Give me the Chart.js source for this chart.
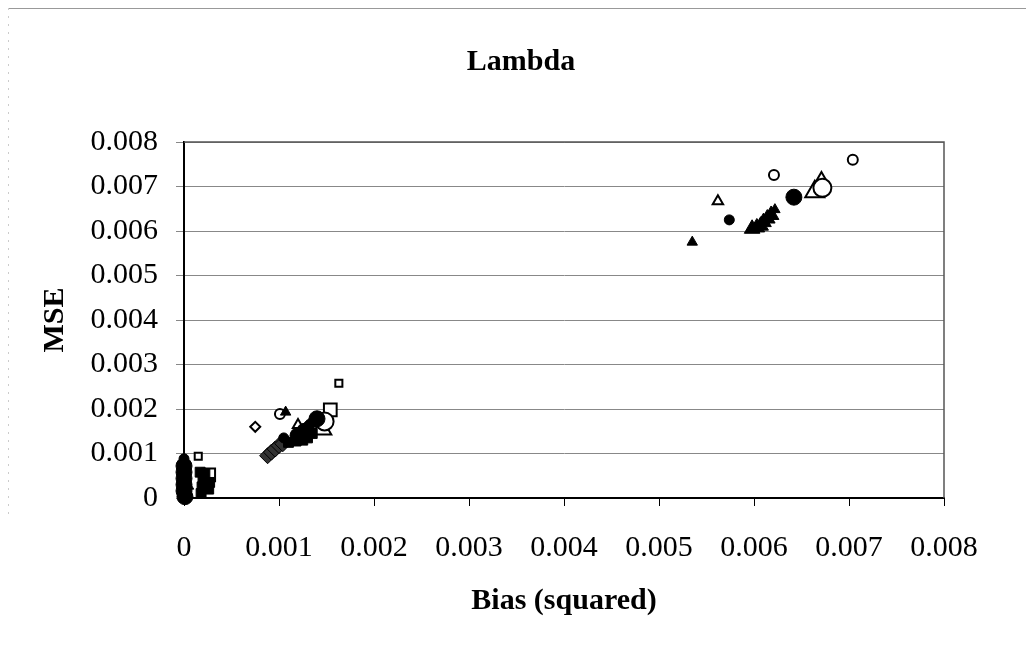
<!DOCTYPE html>
<html lang="en">
    <head>
        <meta charset="UTF-8" />
        <title>Lambda</title>
        <script src="https://cdn.jsdelivr.net/npm/chart.js@4.4.1/dist/chart.umd.min.js"></script>
        <style>
            html, body { margin: 0; padding: 0; background: #fff; }
        </style>
    </head>
    <body>
        <canvas id="chart" width="1026" height="651"></canvas>
        <script>
        // axis ticks
        const xTicks = [0, 0.001, 0.002, 0.003, 0.004, 0.005, 0.006, 0.007, 0.008];
        const yTicks = [0, 0.001, 0.002, 0.003, 0.004, 0.005, 0.006, 0.007, 0.008];

        // series (x = bias squared, y = MSE)
        const filledCircleSmallX = [0, 0.00105, 0.00574];
        const filledCircleSmallY = [0.00088, 0.00135, 0.00625];
        const filledCircleLargeX = [0, 0, 0, 0, 0, 0.00001, 0.0012, 0.00127, 0.0014, 0.00642];
        const filledCircleLargeY = [0.00072, 0.00058, 0.00044, 0.0003, 0.00016, 0.00003, 0.0014, 0.0015, 0.00178, 0.00676];
        const openCircleSmallX = [0.00101, 0.00621, 0.00704];
        const openCircleSmallY = [0.00189, 0.00726, 0.0076];
        const openCircleLargeX = [0.00148, 0.00672];
        const openCircleLargeY = [0.00172, 0.00697];
        const filledTriSmallX = [0.00107, 0.00535, 0.00622];
        const filledTriSmallY = [0.00193, 0.00575, 0.00648];
        const filledTriLargeX = [0.00002, 0.00598, 0.00603, 0.00607, 0.0061, 0.00614, 0.00618];
        const filledTriLargeY = [0.0003, 0.00605, 0.00608, 0.00612, 0.0062, 0.00628, 0.00636];
        const openTriSmallX = [0.0012, 0.00562, 0.00671];
        const openTriSmallY = [0.00164, 0.00667, 0.00719];
        const openTriLargeX = [0.00145, 0.00664];
        const openTriLargeY = [0.00155, 0.00688];
        const openSquareSmallX = [0.00015, 0.00163];
        const openSquareSmallY = [0.00094, 0.00258];
        const openSquareLargeX = [0.00026, 0.00154];
        const openSquareLargeY = [0.00052, 0.00198];
        const filledSquareX = [0.00018, 0.00019, 0.0002, 0.00026, 0.00027, 0.00022, 0.00017, 0.0011, 0.00118, 0.00125, 0.0013, 0.00135];
        const filledSquareY = [0.0001, 0.00025, 0.0004, 0.0002, 0.00035, 0.00055, 0.00058, 0.00125, 0.00128, 0.0013, 0.00135, 0.00145];
        const openDiamondX = [0.00075];
        const openDiamondY = [0.0016];
        const grayDiamondX = [0.00088, 0.00092, 0.00096, 0.001, 0.00104];
        const grayDiamondY = [0.00095, 0.00103, 0.0011, 0.00118, 0.00122];
        const filledDiamondX = [0, 0.0013, 0.00135];
        const filledDiamondY = [0.0001, 0.0016, 0.0017];

        const serif = "'Liberation Serif', 'Times New Roman', serif";

        function pts(xs, ys) {
            return xs.map((x, i) => ({ x: x, y: ys[i] }));
        }

        function series(label, xs, ys, style, radius, fill, border) {
            return {
                label: label,
                data: pts(xs, ys),
                pointStyle: style,
                pointRadius: radius,
                pointHoverRadius: radius,
                backgroundColor: fill,
                borderColor: '#000',
                pointBorderWidth: border,
                showLine: false,
                clip: false,
                yAxisID: 'y'
            };
        }

        // frame around the plot and faint outer frame
        const frame = {
            id: 'frame',
            beforeDatasetsDraw(chart) {
                const { ctx, chartArea: a } = chart;
                ctx.save();
                ctx.strokeStyle = '#555';
                ctx.lineWidth = 1.5;
                ctx.beginPath();
                ctx.moveTo(a.left, a.top);
                ctx.lineTo(a.right, a.top);
                ctx.lineTo(a.right, a.bottom);
                ctx.stroke();
                ctx.strokeStyle = '#999';
                ctx.lineWidth = 1;
                ctx.beginPath();
                ctx.moveTo(8, 8.5);
                ctx.lineTo(1026, 8.5);
                ctx.stroke();
                ctx.strokeStyle = '#ccc';
                ctx.setLineDash([2, 6]);
                ctx.beginPath();
                ctx.moveTo(8.5, 8);
                ctx.lineTo(8.5, 520);
                ctx.stroke();
                ctx.restore();
            }
        };

        const ctx = document.getElementById('chart').getContext('2d');
        const myChart = new Chart(ctx, {
            type: 'scatter',
            data: {
                datasets: [
                    series('Filled circle (small)', filledCircleSmallX, filledCircleSmallY, 'circle', 5, '#000', 1),
                    series('Filled circle (large)', filledCircleLargeX, filledCircleLargeY, 'circle', 8, '#000', 1),
                    series('Filled square', filledSquareX, filledSquareY, 'rect', 7, '#000', 1),
                    series('Gray diamond', grayDiamondX, grayDiamondY, 'rectRot', 8, '#333', 1),
                    series('Filled diamond', filledDiamondX, filledDiamondY, 'rectRot', 7, '#000', 1),
                    series('Filled triangle (small)', filledTriSmallX, filledTriSmallY, 'triangle', 6, '#000', 1),
                    series('Filled triangle (large)', filledTriLargeX, filledTriLargeY, 'triangle', 9, '#000', 1),
                    series('Open circle (small)', openCircleSmallX, openCircleSmallY, 'circle', 5, '#fff', 2),
                    series('Open circle (large)', openCircleLargeX, openCircleLargeY, 'circle', 9, '#fff', 2),
                    series('Open triangle (small)', openTriSmallX, openTriSmallY, 'triangle', 6, '#fff', 2),
                    series('Open triangle (large)', openTriLargeX, openTriLargeY, 'triangle', 11, '#fff', 2),
                    series('Open square (small)', openSquareSmallX, openSquareSmallY, 'rect', 5, '#fff', 2),
                    series('Open square (large)', openSquareLargeX, openSquareLargeY, 'rect', 9, '#fff', 2),
                    series('Open diamond', openDiamondX, openDiamondY, 'rectRot', 5, '#fff', 2)
                ]
            },
            options: {
                responsive: false,
                animation: false,
                layout: { padding: { left: 16, right: 0, top: 0, bottom: 0 } },
                plugins: {
                    legend: { display: false },
                    tooltip: { enabled: false },
                    title: {
                        display: true,
                        text: 'Lambda',
                        color: '#000',
                        font: { family: serif, size: 30, weight: 'bold' },
                        padding: { top: 44, bottom: 62 }
                    }
                },
                scales: {
                    x: {
                        type: 'linear',
                        min: 0,
                        max: 0.008,
                        afterFit: s => { s.height = 153; },
                        afterBuildTicks: s => { s.ticks = xTicks.map(v => ({ value: v })); },
                        ticks: {
                            color: '#000',
                            font: { family: serif, size: 30 },
                            padding: 24,
                            maxRotation: 0,
                            callback: v => String(v)
                        },
                        grid: { drawOnChartArea: false, drawTicks: true, tickLength: 8, color: '#000' },
                        border: { color: '#000', width: 2 },
                        title: {
                            display: true,
                            text: 'Bias (squared)',
                            color: '#000',
                            font: { family: serif, size: 30, weight: 'bold' },
                            padding: 32
                        }
                    },
                    y: {
                        type: 'linear',
                        min: 0,
                        max: 0.008,
                        afterFit: s => { s.width = 168; },
                        afterBuildTicks: s => { s.ticks = yTicks.map(v => ({ value: v })); },
                        ticks: {
                            color: '#000',
                            font: { family: serif, size: 30 },
                            padding: 18,
                            callback: v => String(v)
                        },
                        grid: { color: '#888', lineWidth: 1, tickLength: 8 },
                        border: { color: '#000', width: 2 },
                        title: {
                            display: true,
                            text: 'MSE',
                            color: '#000',
                            font: { family: serif, size: 30, weight: 'bold' },
                            padding: 21
                        }
                    },
                    // empty right-hand strip so the plot ends where it does in the picture
                    yRight: {
                        type: 'linear',
                        position: 'right',
                        afterFit: s => { s.width = 82; },
                        ticks: { display: false },
                        grid: { display: false, drawTicks: false },
                        border: { display: false }
                    }
                }
            },
            plugins: [frame]
        });
        </script>
    </body>
</html>
